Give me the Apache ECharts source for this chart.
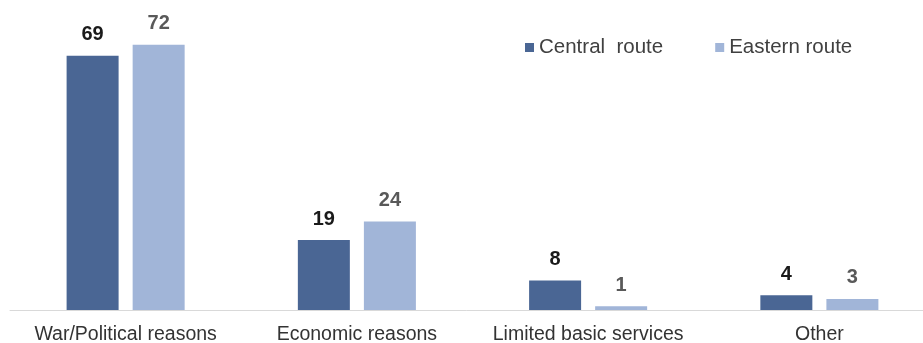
<!DOCTYPE html>
<html>
<head>
<meta charset="utf-8">
<script src="https://cdn.jsdelivr.net/npm/echarts@6/dist/echarts.min.js"></script>
<style>
  html, body { margin: 0; padding: 0; background: #fff; }
  #chart { width: 923px; height: 343px; }
</style>
</head>
<body>
<div id="chart"></div>
<script>
// Reasons for leaving, by migration route (%)
const categories = ['War/Political reasons', 'Economic reasons', 'Limited basic services', 'Other'];
const centralRoute = [69, 19, 8, 4];
const easternRoute = [72, 24, 1, 3];
const seriesNames = ['Central  route', 'Eastern route'];

const chart = echarts.init(document.getElementById('chart'), null, { renderer: 'canvas' });

const labelFont = 'Liberation Sans, Arial, sans-serif';

chart.setOption({
  animation: false,
  backgroundColor: '#ffffff',
  textStyle: { fontFamily: labelFont },
  legend: {
    top: 32,
    left: 520,
    itemWidth: 9,
    itemHeight: 9,
    itemGap: 52,
    icon: 'rect',
    textStyle: { fontSize: 20.5, color: '#404040', fontFamily: labelFont },
    data: seriesNames
  },
  grid: { left: 10, width: 925, top: 30, bottom: 33, outerBoundsMode: 'none', containLabel: false },
  xAxis: {
    type: 'category',
    data: categories,
    axisLine: { show: true, lineStyle: { color: '#d9d9d9', width: 1 } },
    axisTick: { show: false },
    axisLabel: {
      interval: 0,
      hideOverlap: false,
      fontSize: 19.5,
      color: '#333333',
      margin: 15,
      fontFamily: labelFont
    }
  },
  yAxis: {
    type: 'value',
    min: 0,
    max: 76,
    show: false,
    splitLine: { show: false }
  },
  series: [
    {
      name: seriesNames[0],
      type: 'bar',
      data: centralRoute,
      barWidth: 52,
      barGap: '27%',
      itemStyle: { color: '#4a6694' },
      label: {
        show: true,
        position: 'top',
        distance: 11,
        fontSize: 20,
        fontWeight: 'bold',
        color: '#1a1a1a',
        fontFamily: labelFont
      }
    },
    {
      name: seriesNames[1],
      type: 'bar',
      data: easternRoute,
      barWidth: 52,
      barGap: '27%',
      itemStyle: { color: '#a1b5d8' },
      label: {
        show: true,
        position: 'top',
        distance: 11,
        fontSize: 20,
        fontWeight: 'bold',
        color: '#595959',
        fontFamily: labelFont
      }
    }
  ]
});
</script>
</body>
</html>
